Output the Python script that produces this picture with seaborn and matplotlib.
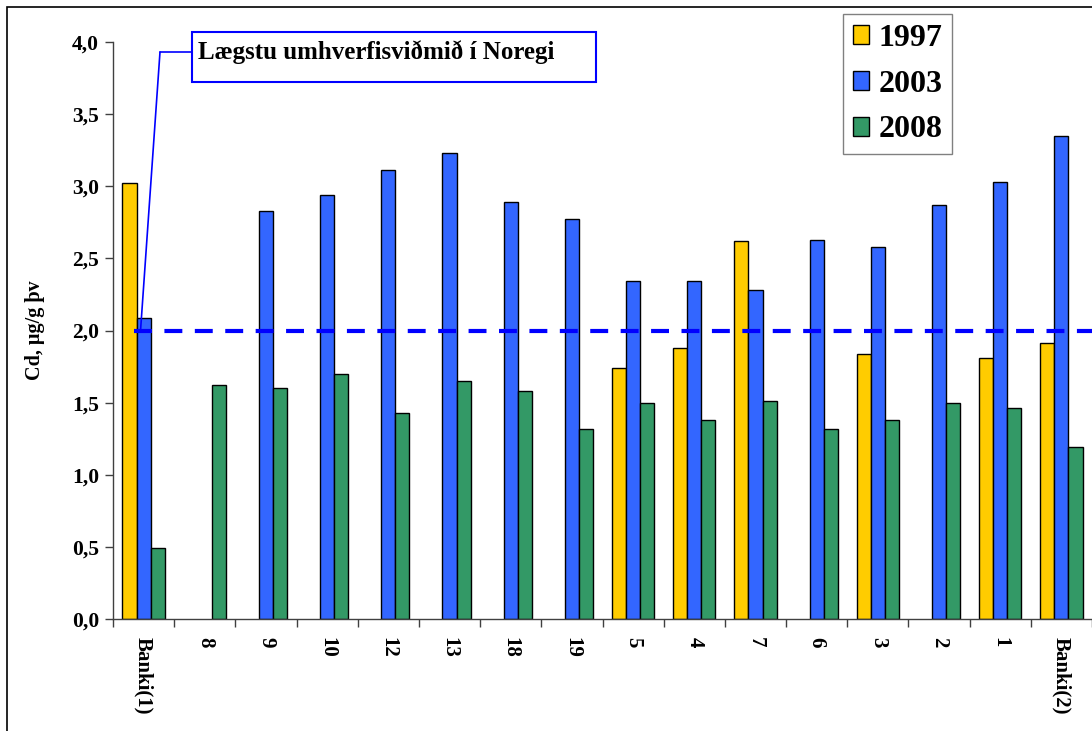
import numpy as np
import pandas as pd
import seaborn as sns
import matplotlib.pyplot as plt
from matplotlib.patches import Rectangle
from matplotlib.lines import Line2D

# gögn lesin af myndinni
stations = ['Banki(1)', '8', '9', '10', '12', '13', '18', '19',
            '5', '4', '7', '6', '3', '2', '1', 'Banki(2)']
years = ['1997', '2003', '2008']
cd_1997 = [3.02, np.nan, np.nan, np.nan, np.nan, np.nan, np.nan, np.nan,
           1.74, 1.88, 2.62, np.nan, 1.84, np.nan, 1.81, 1.91]
cd_2003 = [2.09, np.nan, 2.83, 2.94, 3.11, 3.23, 2.89, 2.77,
           2.34, 2.34, 2.28, 2.63, 2.58, 2.87, 3.03, 3.35]
cd_2008 = [0.49, 1.62, 1.60, 1.70, 1.43, 1.65, 1.58, 1.32,
           1.50, 1.38, 1.51, 1.32, 1.38, 1.50, 1.46, 1.19]
threshold = 2.0
colors = ['#FFCC00', '#3366FF', '#339966']

df = pd.DataFrame({'stod': stations * 3,
                   'ar': [y for y in years for _ in stations],
                   'cd': cd_1997 + cd_2003 + cd_2008})

sns.set_style('white')
plt.rcParams['font.family'] = ['Liberation Serif', 'DejaVu Serif']
plt.rcParams['font.weight'] = 'bold'
plt.rcParams['text.color'] = 'black'
plt.rcParams['axes.labelcolor'] = 'black'
plt.rcParams['xtick.color'] = 'black'
plt.rcParams['ytick.color'] = 'black'

W, H = 1092, 731
fig = plt.figure(figsize=(W / 100, H / 100), dpi=100)
ax = fig.add_axes([113 / W, 1 - 619 / H, 1 - 113 / W, (619 - 42) / H])

sns.barplot(data=df, x='stod', y='cd', hue='ar', order=stations, hue_order=years,
            palette=colors, saturation=1, width=0.69, edgecolor='black', linewidth=1,
            errorbar=None, ax=ax)

ax.set_xlim(-0.5, len(stations) - 0.5)
ax.set_ylim(0, 4.0)
ax.set_yticks(np.arange(0, 4.01, 0.5))
ax.set_yticklabels([f'{v:.1f}'.replace('.', ',') for v in np.arange(0, 4.01, 0.5)],
                   fontsize=15.5, fontweight='bold')
ax.set_xticks(range(len(stations)))
ax.set_xticklabels(stations, rotation=270, fontsize=15, fontweight='bold')
ax.set_xticks(np.arange(-0.5, len(stations), 1), minor=True)
ax.tick_params(axis='x', which='major', length=0, pad=13)
ax.tick_params(axis='x', which='minor', length=6, width=1, color='#404040', direction='out', bottom=True)
ax.tick_params(axis='y', length=6, width=1, color='#404040', direction='out', left=True, pad=4)
ax.set_xlabel('')
ax.set_ylabel('Cd, µg/g þv', fontsize=14.5, fontweight='bold')
ax.yaxis.set_label_coords(-0.069, 0.5)
for s in ['top', 'right']:
    ax.spines[s].set_visible(False)
for s in ['left', 'bottom']:
    ax.spines[s].set_color('#404040')
    ax.spines[s].set_linewidth(1)

# viðmiðunarlína
ax.plot([-0.16, len(stations) - 0.5], [threshold, threshold], color='#0000FF',
        lw=3, dashes=(4.3, 3.0), zorder=5, clip_on=False)

# skýringarkassi
fig.patches.append(Rectangle((192 / W, 1 - 82 / H), (596 - 192) / W, 50 / H,
                             transform=fig.transFigure, fill=False,
                             edgecolor='#0000FF', lw=1.5))
fig.text(198 / W, 1 - 52 / H, 'Lægstu umhverfisviðmið í Noregi',
         fontsize=18, fontweight='bold', va='center', ha='left')
fig.lines.append(Line2D([160 / W, 192 / W], [1 - 52 / H, 1 - 52 / H],
                        transform=fig.transFigure, color='#0000FF', lw=1.2))
ax.annotate('', xy=(-0.05, threshold), xycoords='data',
            xytext=(160 / W, 1 - 52 / H), textcoords='figure fraction',
            arrowprops=dict(arrowstyle='-', color='#0000FF', lw=1.2,
                            shrinkA=0, shrinkB=0))

# rammi um myndina
fig.patches.append(Rectangle((7 / W, -0.05), 1.1, 1.05 - 7 / H,
                             transform=fig.transFigure, fill=False,
                             edgecolor='black', lw=1.2))

# skýringar
handles, labels = ax.get_legend_handles_labels()
ax.legend_.remove()
leg = fig.legend(handles, labels, loc='upper left',
                 bbox_to_anchor=(843 / W, 1 - 14 / H),
                 prop={'family': 'Liberation Serif', 'weight': 'bold', 'size': 23},
                 frameon=True, fancybox=False, edgecolor='#606060',
                 handlelength=0.5, handleheight=0.55, handletextpad=0.3,
                 labelspacing=0.53, borderpad=0.3, borderaxespad=0)
leg.get_frame().set_linewidth(1)

fig.savefig('out.png', dpi=100)
